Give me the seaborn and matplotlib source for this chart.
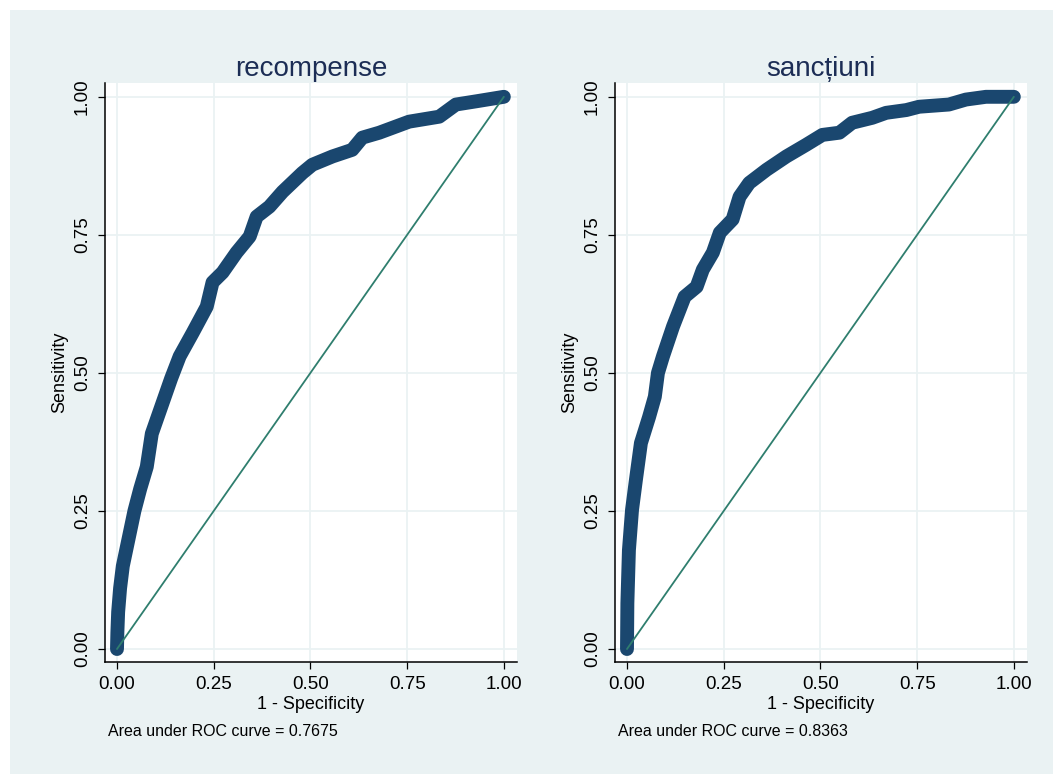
import pandas as pd
import matplotlib
matplotlib.use("Agg")
import matplotlib.pyplot as plt
import seaborn as sns
from matplotlib.patches import Rectangle

# Date (1 - specificitate, sensibilitate)
rec_fpr = [0.000, 0.001, 0.003, 0.008, 0.015, 0.030, 0.045, 0.060, 0.077, 0.090,
           0.110, 0.140, 0.162, 0.196, 0.232, 0.247, 0.273, 0.309, 0.343, 0.361,
           0.394, 0.428, 0.479, 0.505, 0.557, 0.608, 0.634, 0.678, 0.755, 0.833,
           0.876, 0.930, 1.000]
rec_tpr = [0.000, 0.030, 0.067, 0.110, 0.150, 0.200, 0.250, 0.290, 0.330, 0.390,
           0.430, 0.490, 0.530, 0.573, 0.620, 0.664, 0.682, 0.718, 0.747, 0.783,
           0.801, 0.828, 0.862, 0.877, 0.892, 0.904, 0.926, 0.935, 0.955, 0.964,
           0.986, 0.992, 1.000]

san_fpr = [0.000, 0.001, 0.005, 0.013, 0.023, 0.036, 0.057, 0.072, 0.080, 0.093,
           0.119, 0.149, 0.180, 0.196, 0.222, 0.240, 0.273, 0.291, 0.316, 0.361,
           0.412, 0.463, 0.505, 0.549, 0.582, 0.634, 0.670, 0.722, 0.755, 0.832,
           0.876, 0.928, 1.000]
san_tpr = [0.000, 0.083, 0.179, 0.252, 0.306, 0.373, 0.420, 0.457, 0.500, 0.530,
           0.584, 0.638, 0.656, 0.687, 0.718, 0.754, 0.778, 0.819, 0.844, 0.868,
           0.892, 0.913, 0.931, 0.935, 0.953, 0.962, 0.971, 0.976, 0.982, 0.986,
           0.995, 1.000, 1.000]

titluri = ["recompense", "sancțiuni"]
arii = ["Area under ROC curve = 0.7675", "Area under ROC curve = 0.8363"]
ticks = [0.0, 0.25, 0.5, 0.75, 1.0]
tick_labels = ["0.00", "0.25", "0.50", "0.75", "1.00"]
ref_line = [0.0, 1.0]

sns.set_theme(style="white")
plt.rcParams['font.family'] = ['Liberation Sans', 'DejaVu Sans']

bg = "#EAF2F3"
navy = "#1A476F"
verde = "#2F7E6E"

fig = plt.figure(figsize=(10.53, 7.74), dpi=100)
fig.patch.set_facecolor("white")
fig.patches.append(Rectangle((10 / 1053, 0), 1, 1 - 10 / 774, transform=fig.transFigure,
                             facecolor=bg, edgecolor="none", zorder=-10))

pozitii = [105 / 1053, 615 / 1053]
date = [(rec_fpr, rec_tpr), (san_fpr, san_tpr)]

for i in range(2):
    ax = fig.add_axes([pozitii[i], 112 / 774, 412 / 1053, 579 / 774])
    ax.set_facecolor("white")
    df = pd.DataFrame({"fpr": date[i][0], "tpr": date[i][1]})
    ref = pd.DataFrame({"x": ref_line, "y": ref_line})

    sns.lineplot(data=df, x="fpr", y="tpr", ax=ax, color=navy, linewidth=10,
                 estimator=None, sort=False, zorder=3)
    ax.lines[-1].set_solid_capstyle("round")
    ax.lines[-1].set_solid_joinstyle("round")
    sns.lineplot(data=ref, x="x", y="y", ax=ax, color=verde, linewidth=1.3,
                 estimator=None, sort=False, zorder=4)

    ax.set_xlim(-0.031, 1.034)
    ax.set_ylim(-0.0235, 1.025)
    ax.set_xticks(ticks)
    ax.set_xticklabels(tick_labels)
    ax.set_yticks(ticks)
    ax.set_yticklabels(tick_labels, rotation=90, va="center")
    ax.grid(True, color=bg, linewidth=1.3)
    ax.set_axisbelow(True)

    for s in ["top", "right"]:
        ax.spines[s].set_visible(False)
    for s in ["left", "bottom"]:
        ax.spines[s].set_color("black")
        ax.spines[s].set_linewidth(1.1)

    ax.tick_params(axis="both", direction="out", length=5, width=0.9, color="black",
                   labelsize=13.5, labelcolor="black", bottom=True, left=True, pad=5)
    ax.set_xlabel("1 - Specificity", fontsize=13, color="black", labelpad=2)
    ax.set_ylabel("Sensitivity", fontsize=13, color="black", labelpad=4)
    ax.set_title(titluri[i], fontsize=20, color="#1C2D55", pad=5)

    fig.text((pozitii[i] * 1053 + 3) / 1053, 1 - 732 / 774, arii[i], fontsize=11.5,
             color="black", va="center", ha="left")

fig.savefig("out.png", dpi=100, facecolor=fig.get_facecolor())
plt.close(fig)
